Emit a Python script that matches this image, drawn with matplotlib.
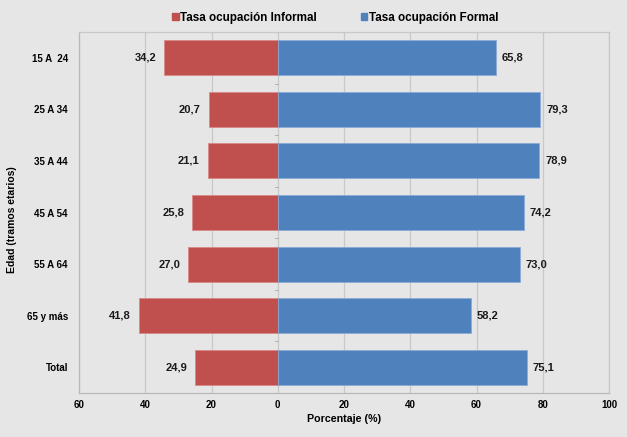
import matplotlib.pyplot as plt
from matplotlib.patches import Patch

# --- Data ---
categorias = ['15 A  24', '25 A 34', '35 A 44', '45 A 54', '55 A 64', '65 y más', 'Total']
informal = [34.2, 20.7, 21.1, 25.8, 27.0, 41.8, 24.9]
formal = [65.8, 79.3, 78.9, 74.2, 73.0, 58.2, 75.1]
xticks = [-60, -40, -20, 0, 20, 40, 60, 80, 100]

rojo = '#C0504D'
azul = '#4F81BD'
fondo = '#E6E6E6'

plt.rcParams['font.family'] = ['Liberation Sans', 'DejaVu Sans']
plt.rcParams['font.weight'] = 'bold'

fig = plt.figure(figsize=(6.27, 4.37), dpi=100, facecolor=fondo)
ax = fig.add_axes([79 / 627, 1 - 393 / 437, (609 - 79) / 627, (393 - 32) / 437])
ax.set_facecolor(fondo)

y = list(range(len(categorias)))
neg = [-v for v in informal]
ax.barh(y, neg, height=0.68, color=rojo, edgecolor='#D88A88', linewidth=0.6, zorder=3)
ax.barh(y, formal, height=0.68, color=azul, edgecolor='#8AAAD6', linewidth=0.6, zorder=3)

# --- Value labels ---
for i in y:
    ax.text(-informal[i] - 2.5, i, f'{informal[i]:.1f}'.replace('.', ','),
            ha='right', va='center', fontsize=8, fontweight='bold', color='#1a1a1a')
    ax.text(formal[i] + 1.8, i, f'{formal[i]:.1f}'.replace('.', ','),
            ha='left', va='center', fontsize=8, fontweight='bold', color='#1a1a1a')

ax.set_xlim(-60, 100)
ax.set_ylim(len(categorias) - 0.5, -0.5)
ax.set_xticks(xticks)
ax.set_xticklabels([str(abs(t)) for t in xticks], fontsize=7, fontweight='bold')
ax.set_yticks(y)
ax.set_yticklabels(categorias, fontsize=7, fontweight='bold')
ax.tick_params(axis='y', length=0, pad=8)
ax.tick_params(axis='x', length=0, pad=5)
ax.grid(axis='x', color='#C8C8C8', linewidth=0.9, zorder=0)

for s in ax.spines.values():
    s.set_color('#C8C8C8')
    s.set_linewidth(0.9)
ax.spines['bottom'].set_color('#B8B8B8')
ax.spines['left'].set_color('#B8B8B8')

# small category separators on the zero line
for k in range(len(categorias) - 1):
    ax.plot([-0.8, 0], [k + 0.5, k + 0.5], color='#B0B0B0', linewidth=0.7, zorder=2)

ax.set_xlabel('Porcentaje (%)', fontsize=7.7, fontweight='bold', labelpad=3)
ax.set_ylabel('Edad (tramos etarios)', fontsize=7.5, fontweight='bold')
ax.yaxis.set_label_coords(-0.117, 0.48)

handles = [Patch(color=rojo, label='Tasa ocupación Informal'),
           Patch(color=azul, label='Tasa ocupación Formal')]
fig.legend(handles=handles, loc='center', bbox_to_anchor=(0.535, 0.959), ncol=2,
           frameon=False, prop={'size': 8.4, 'weight': 'bold'},
           handlelength=0.55, handleheight=0.55, handletextpad=0.15, columnspacing=3.75)

fig.savefig('out.png', dpi=100, facecolor=fondo)
